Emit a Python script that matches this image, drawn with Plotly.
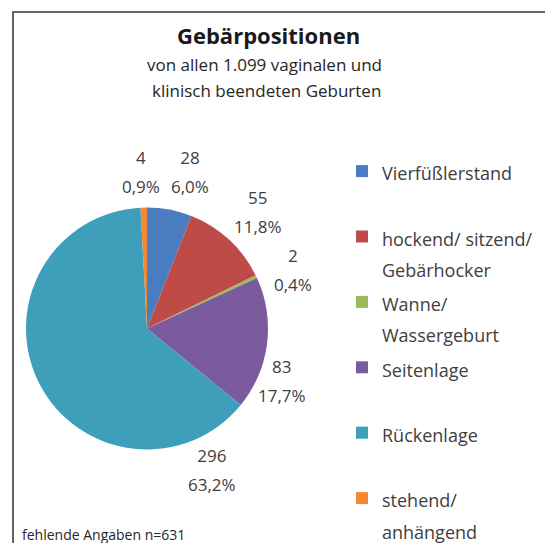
import plotly.graph_objects as go

categories = ["Vierfüßlerstand", "hockend/ sitzend/<br>Gebärhocker", "Wanne/<br>Wassergeburt",
              "Seitenlage", "Rückenlage", "stehend/<br>anhängend"]
values = [28, 55, 2, 83, 296, 4]
colors = ["#4A7CC0", "#BE4B48", "#9BBB59", "#7C5A9E", "#3E9FBA", "#F08A34"]

# the page body has an 8px margin, so the figure starts at (8, 8) of the window
OFF = 8
W, H = 553 - OFF, 543 - OFF
def px(x): return (x - OFF) / W
def py(y): return 1 - (y - OFF) / H

# pixel anchor (centre) of each data label, Excel "best fit" placement
label_pos = [(190, 172), (258, 212), (293, 270), (282, 381), (212, 470), (141, 172)]

total = sum(values)

# legend labels: 2 lines each, small visible font inside a larger line-height font
leg_labels = []
for c in categories:
    parts = c.split("<br>")
    while len(parts) < 2:
        parts.append("\u00a0")
    leg_labels.append("<br>".join(f"<span style='font-size:18px'>{p}</span>" for p in parts))

fig = go.Figure(go.Pie(
    labels=leg_labels,
    values=values,
    sort=False,
    direction="clockwise",
    rotation=0,
    marker=dict(colors=colors, line=dict(width=0)),
    textinfo="none",
    domain=dict(x=[px(26), px(268)], y=[py(450), py(207)]),
    hoverinfo="skip",
))

annotations = [
    dict(text="<b>Gebärpositionen</b>", x=px(268), y=py(35), xref="paper", yref="paper",
         xanchor="center", yanchor="middle", showarrow=False,
         font=dict(family="Open Sans", size=22, color="#1a1a1a")),
    dict(text="von allen 1.099 vaginalen und", x=px(264), y=py(65), xref="paper", yref="paper",
         xanchor="center", yanchor="middle", showarrow=False,
         font=dict(family="Open Sans", size=17, color="#262626")),
    dict(text="klinisch beendeten Geburten", x=px(266), y=py(91), xref="paper", yref="paper",
         xanchor="center", yanchor="middle", showarrow=False,
         font=dict(family="Open Sans", size=17, color="#262626")),
    dict(text="fehlende Angaben n=631", x=px(20), y=py(534), xref="paper", yref="paper",
         xanchor="left", yanchor="middle", showarrow=False,
         font=dict(family="Open Sans", size=14, color="#262626")),
]

for v, (lx, ly) in zip(values, label_pos):
    pct = f"{100 * v / total:.1f}".replace(".", ",") + "%"
    annotations.append(dict(
        text=f"<span style='font-size:17px'>{v}</span><br><span style='font-size:17px'>{pct}</span>",
        x=px(lx), y=py(ly), xref="paper", yref="paper",
        xanchor="center", yanchor="middle", showarrow=False,
        font=dict(family="Open Sans", size=22, color="#404040")))

fig.update_layout(
    width=W, height=H,
    margin=dict(l=0, r=0, t=0, b=0, autoexpand=False),
    paper_bgcolor="white",
    plot_bgcolor="white",
    font=dict(family="Open Sans", color="#404040"),
    legend=dict(
        x=px(342), xanchor="left",
        y=py(149), yanchor="top",
        valign="top",
        font=dict(family="Open Sans", size=24, color="#404040"),
        bgcolor="rgba(0,0,0,0)",
    ),
    shapes=[dict(type="rect", xref="paper", yref="paper",
                 x0=px(13), x1=1.05, y0=-0.05, y1=py(12),
                 line=dict(color="#6d6262", width=2))],
    annotations=annotations,
)

fig.write_html("out.html")
